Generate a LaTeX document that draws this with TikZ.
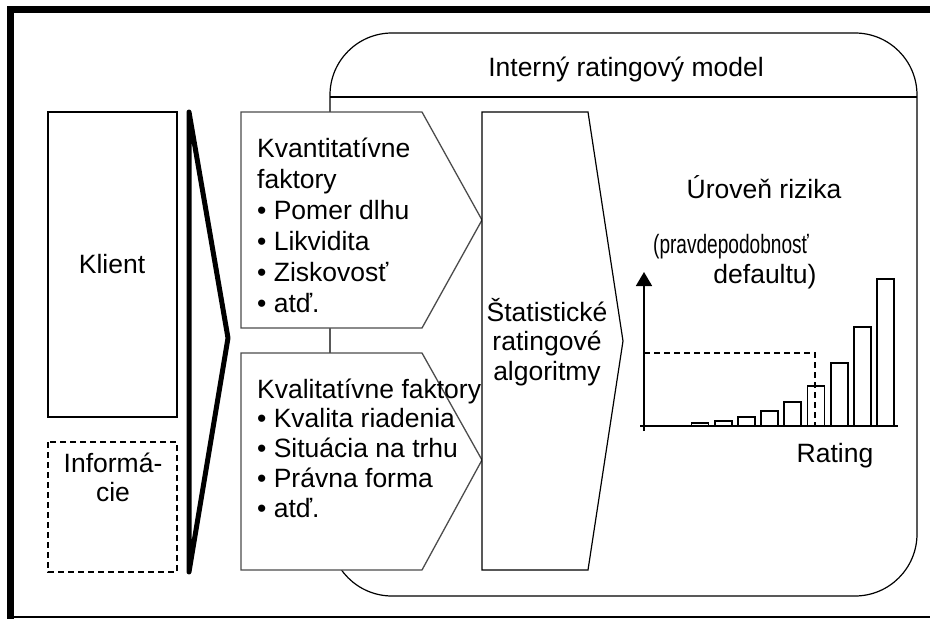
\documentclass[tikz,border=0pt]{standalone}
\usepackage{fontspec}
\setmainfont{Liberation Sans}
\usetikzlibrary{arrows.meta}
\begin{document}
\begin{tikzpicture}[x=1pt,y=-1pt,line join=miter,
  txt/.style={font=\fontsize{26.5}{30}\selectfont,inner sep=0pt},
  box/.style={draw,line width=1.2pt,fill=white},
  fbox/.style={draw=black!70,line width=1.3pt,fill=white},
  bar/.style={draw,line width=1.7pt,fill=white}]
\useasboundingbox (0,0) rectangle (930,619);
% frame
\draw[line width=7pt] (10.5,619) -- (10.5,9.5) -- (930,9.5);
\draw[line width=1.5pt] (10.5,617) -- (930,617);
% model box
\draw[line width=1.2pt,rounded corners=62pt] (330,33) rectangle (917,596);
\draw[line width=1.2pt] (330,97) -- (917,97);
\node[txt,anchor=base] (model) at (626,76) {Interný ratingový model};
% client
\draw[box] (48,112) rectangle (177,417);
\node[txt,anchor=base] (klient) at (112,273) {Klient};
\draw[box,dash pattern=on 6pt off 4pt] (48,442) rectangle (177,572);
\node[txt,anchor=base] (info1) at (113,472) {Informá-};
\node[txt,anchor=base] (info2) at (113,501) {cie};
\draw[line width=5pt,line join=round] (189,112) -- (228,338) -- (189,572) -- cycle;
% factors
\draw[fbox] (241,112) -- (422,112) -- (482,220) -- (422,328) -- (241,328) -- cycle;
\draw[fbox] (241,353) -- (422,353) -- (482,460) -- (422,570) -- (241,570) -- cycle;
\foreach \t [count=\i from 0] in {Kvantitatívne,faktory,• Pomer dlhu,• Likvidita,• Ziskovosť,• atď.}
  \node[txt,anchor=base west] (kvant\i) at (257,157+31*\i) {\t};
\foreach \t [count=\i from 0] in {Kvalitatívne faktory,• Kvalita riadenia,• Situácia na trhu,• Právna forma,• atď.}
  \node[txt,anchor=base west] (kval\i) at (257,398+29.8*\i) {\t};
% algorithms
\draw[box] (482,112) -- (588,112) -- (623,341) -- (588,570) -- (482,570) -- cycle;
\foreach \t [count=\i from 0] in {Štatistické,ratingové,algoritmy}
  \node[txt,anchor=base] (alg\i) at (547,321+29.5*\i) {\t};
% risk chart
\node[txt,anchor=base] (uroven) at (764,198) {Úroveň rizika};
\node[txt,anchor=base] (pd1) at (731,253) {\scalebox{0.72}[1]{(pravdepodobnosť}};
\node[txt,anchor=base] (pd2) at (765,283) {defaultu)};
\coordinate (o) at (644,426);
\coordinate (ytop) at (644,272);
\coordinate (xend) at (898,426);
\draw[line width=1.7pt,-{Triangle[length=14pt,width=16pt]}] (644,431) -- (ytop);
\draw[line width=1.7pt] (640,426) -- (xend);
\foreach \h [count=\i from 0] in {3,5,9,15,24,40,63,99,147}
  \draw[bar] (700-8.5+23.2*\i,426) rectangle (700+8.5+23.2*\i,426-\h);
\coordinate (sel) at (815,426);
\draw[line width=1.4pt,dash pattern=on 6pt off 4pt] (644,353) -| (sel);
\node[txt,anchor=base] (rating) at (835,462) {Rating};
\end{tikzpicture}
\end{document}
